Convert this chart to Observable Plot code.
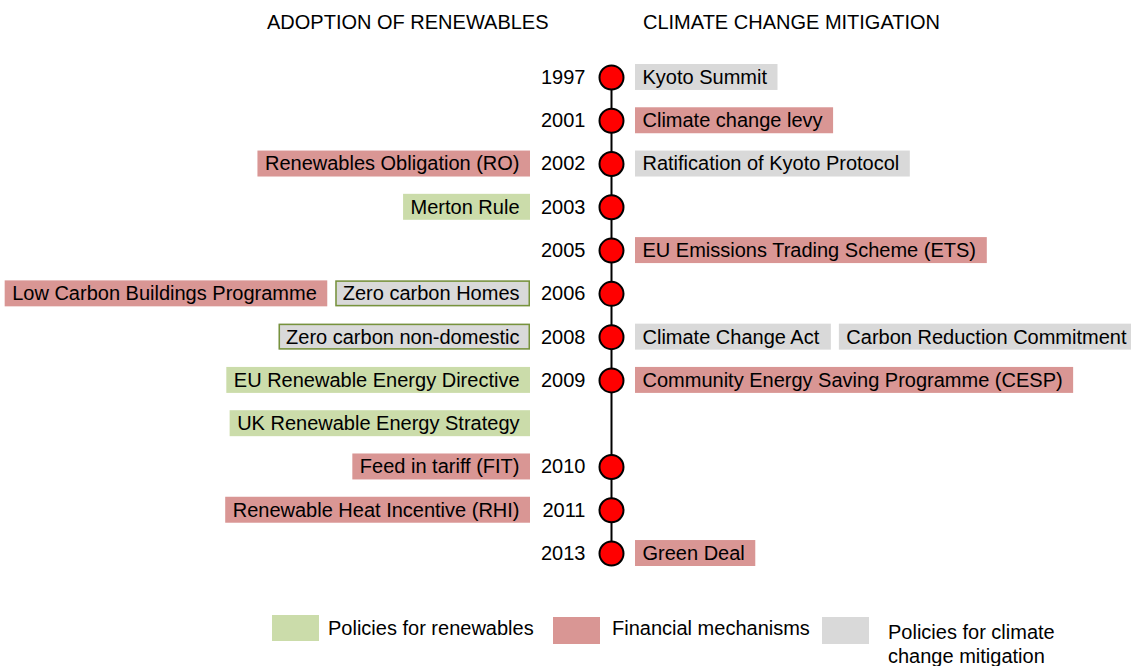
<!DOCTYPE html>
<html>
<head>
<meta charset="utf-8">
<script src="https://cdn.jsdelivr.net/npm/d3@7"></script>
<script src="https://cdn.jsdelivr.net/npm/@observablehq/plot@0.6"></script>
<style>
  html, body { margin: 0; padding: 0; background: #fff; }
  body { width: 1131px; font-family: "Liberation Sans", Arial, sans-serif; color: #000; }
  .hdr { position: relative; height: 40px; }
  .hdr span { position: absolute; top: 10px; line-height: 24px; font-size: 20px; white-space: nowrap; }
  .legend { position: relative; height: 66px; }
  .legend .sw { position: absolute; width: 47px; }
  .legend .lb { position: absolute; font-size: 20px; line-height: 24px; }
</style>
</head>
<body>
<div class="hdr" id="hdr"></div>
<div id="chart"></div>
<div class="legend" id="legend"></div>
<script>
// ---------- data ----------
const headers = ["ADOPTION OF RENEWABLES", "CLIMATE CHANGE MITIGATION"];

const rows     = ["1997", "2001", "2002", "2003", "2005", "2006", "2008", "2009", "2009b", "2010", "2011", "2013"];
const rowYears = ["1997", "2001", "2002", "2003", "2005", "2006", "2008", "2009", null, "2010", "2011", "2013"];

const categories     = ["renewables", "financial", "mitigation"];
const categoryNames  = ["Policies for renewables", "Financial mechanisms", "Policies for climate change mitigation"];
const categoryColors = ["#cbdcaa", "#d99694", "#d9d9d9"];

const itemLabels = [
  "Kyoto Summit", "Climate change levy", "Ratification of Kyoto Protocol", "Renewables Obligation (RO)",
  "Merton Rule", "EU Emissions Trading Scheme (ETS)", "Zero carbon Homes", "Low Carbon Buildings Programme",
  "Zero carbon non-domestic", "Climate Change Act", "Carbon Reduction Commitment", "EU Renewable Energy Directive",
  "Community Energy Saving Programme (CESP)", "UK Renewable Energy Strategy", "Feed in tariff (FIT)",
  "Renewable Heat Incentive (RHI)", "Green Deal"
];
const itemRows = ["1997", "2001", "2002", "2002", "2003", "2005", "2006", "2006", "2008", "2008", "2008",
                  "2009", "2009", "2009b", "2010", "2011", "2013"];
const itemSides = ["right", "right", "right", "left", "left", "right", "left", "left", "left", "right", "right",
                   "left", "right", "left", "left", "left", "right"];
const itemCategories = ["mitigation", "financial", "mitigation", "financial", "renewables", "financial", "mitigation",
                        "financial", "mitigation", "mitigation", "mitigation", "renewables", "financial", "renewables",
                        "financial", "financial", "financial"];
const itemOutlined = [false, false, false, false, false, false, true, false, true, false, false,
                      false, false, false, false, false, false];

// ---------- layout ----------
const W = 1131;
const lineX = 611, yearX = 585, rightAnchor = 635, leftAnchor = 530, gap = 8, padL = 7, padR = 11;
const FONT = "20px 'Liberation Sans', Arial, sans-serif";
const ctx = document.createElement("canvas").getContext("2d");
ctx.font = FONT;
const tw = s => ctx.measureText(s).width;

const used = {};
const items = itemLabels.map((label, i) => {
  const side = itemSides[i], row = itemRows[i];
  const key = side + row;
  const off = used[key] || 0;
  const w = tw(label) + padL + padR;
  used[key] = off + w + gap;
  let x1, x2;
  if (side === "right") { x1 = rightAnchor + off; x2 = x1 + w; }
  else { x2 = leftAnchor - off; x1 = x2 - w; }
  return {label, row, side, category: itemCategories[i], outlined: itemOutlined[i], x1, x2, tx: x1 + padL};
});
const yearRows = rows.map((r, i) => ({row: r, year: rowYears[i]})).filter(d => d.year);

// headers
const hdr = document.getElementById("hdr");
[267, 643].forEach((x, i) => {
  const s = document.createElement("span");
  s.style.left = x + "px";
  s.textContent = headers[i];
  hdr.appendChild(s);
});

const chart = Plot.plot({
  width: W,
  height: 560,
  marginLeft: 0, marginRight: 0, marginTop: 24, marginBottom: 34,
  style: {fontFamily: "'Liberation Sans', Arial, sans-serif", fontSize: "20px", background: "#fff", color: "#000"},
  x: {domain: [0, W], axis: null},
  y: {type: "band", domain: rows, paddingInner: 0.4, paddingOuter: 0, round: false, axis: null},
  color: {domain: categories, range: categoryColors},
  marks: [
    Plot.barX(items, {x1: "x1", x2: "x2", y: "row", fill: "category"}),
    Plot.barX(items.filter(d => d.outlined), {x1: "x1", x2: "x2", y: "row", fill: "none", stroke: "#77933c", strokeWidth: 1.5, inset: 0.75}),
    Plot.text(items, {x: "tx", y: "row", text: "label", textAnchor: "start", fontSize: 20, fill: "#000"}),
    Plot.line(rows, {x: () => lineX, y: d => d, stroke: "#000", strokeWidth: 2}),
    Plot.dot(yearRows, {x: () => lineX, y: "row", r: 12, fill: "#ff0000", stroke: "#000", strokeWidth: 2}),
    Plot.text(yearRows, {x: () => yearX, y: "row", text: "year", textAnchor: "end", fontSize: 20, fill: "#000"})
  ]
});
document.getElementById("chart").appendChild(chart);

// legend
const legend = document.getElementById("legend");
const swX = [272, 553, 822], swTop = [15, 17, 17], swH = [26, 27, 27];
const lbX = [328, 612, 888], lbTop = [16, 16, 20], lbW = [220, 220, 180];
categories.forEach((c, i) => {
  const sw = document.createElement("div");
  sw.className = "sw";
  Object.assign(sw.style, {left: swX[i] + "px", top: swTop[i] + "px", height: swH[i] + "px", background: categoryColors[i]});
  legend.appendChild(sw);
  const lb = document.createElement("div");
  lb.className = "lb";
  Object.assign(lb.style, {left: lbX[i] + "px", top: lbTop[i] + "px", width: lbW[i] + "px", whiteSpace: i < 2 ? "nowrap" : "normal"});
  lb.textContent = categoryNames[i];
  legend.appendChild(lb);
});
</script>
</body>
</html>
